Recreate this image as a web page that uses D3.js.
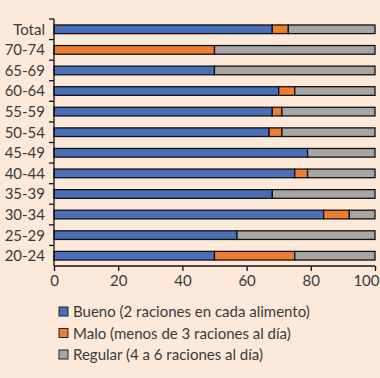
<!DOCTYPE html>
<html><head><meta charset="utf-8">
<script src="https://cdn.jsdelivr.net/npm/d3@7"></script>
<style>
html,body{margin:0;padding:0;background:#fde9d9;}
svg{display:block;}
text{font-family:Lato,"Open Sans",sans-serif;fill:#3a3a3a;}
</style></head>
<body>
<svg id="c" width="380" height="378"></svg>
<script>
const categories = ["Total","70-74","65-69","60-64","55-59","50-54","45-49","40-44","35-39","30-34","25-29","20-24"];
const bueno   = [68, 0, 50, 70, 68, 67, 79, 75, 68, 84, 57, 50];
const malo    = [5, 50, 0, 5, 3, 4, 0, 4, 0, 8, 0, 25];
const regular = [27, 50, 50, 25, 29, 29, 21, 21, 32, 8, 43, 25];
const seriesNames = ["Bueno (2 raciones en cada alimento)","Malo (menos de 3 raciones al día)","Regular (4 a 6 raciones al día)"];
const colors = ["#4a6fb8","#ed7d31","#a6a6a6"];
const xTicks = [0,20,40,60,80,100];

const svg = d3.select("#c");
svg.append("rect").attr("width",380).attr("height",378).attr("fill","#fde9d9");

const x = d3.scaleLinear().domain([0,100]).range([54,375]);
const y = d3.scaleBand().domain(categories).range([19,266]).paddingInner(0.58).paddingOuter(0.29);
const step = y.step();
const y0 = 19, y1 = 266;

const rows = categories.map((c,i)=>({c, vals:[bueno[i],malo[i],regular[i]]}));
const segs = [];
rows.forEach(r=>{let acc=0; r.vals.forEach((v,k)=>{ if(v>0) segs.push({c:r.c,k,a:acc,b:acc+v}); acc+=v;});});

svg.append("g").selectAll("rect").data(segs).join("rect")
  .attr("x",d=>x(d.a)).attr("width",d=>x(d.b)-x(d.a))
  .attr("y",d=>y(d.c)).attr("height",y.bandwidth())
  .attr("fill",d=>colors[d.k]).attr("stroke","#111").attr("stroke-width",1.3);

// y axis
const ga = svg.append("g").attr("stroke","#111").attr("stroke-width",1.3);
ga.append("line").attr("x1",54).attr("x2",54).attr("y1",y0).attr("y2",y1);
categories.forEach((c,i)=>{
  const yy = y0 + step*(i+1);
  if(i<categories.length-1) ga.append("line").attr("x1",49).attr("x2",54).attr("y1",yy).attr("y2",yy);
});
ga.append("line").attr("x1",49).attr("x2",54).attr("y1",y0).attr("y2",y0);
svg.append("g").selectAll("text").data(categories).join("text")
  .attr("x",45).attr("y",d=>y(d)+y.bandwidth()/2).attr("dy","0.36em")
  .attr("text-anchor","end").attr("font-size",15).text(d=>d);

// x axis
ga.append("line").attr("x1",54).attr("x2",375).attr("y1",y1).attr("y2",y1);
const xa = svg.append("g").attr("transform",`translate(0,${y1})`)
  .call(d3.axisBottom(x).tickValues(xTicks).tickSize(5).tickPadding(4).tickFormat(d3.format("d")));
xa.select(".domain").remove();
xa.selectAll("line").attr("stroke","#111").attr("stroke-width",1.3);
xa.selectAll("text").attr("font-size",15).attr("fill","#3a3a3a").style("font-family","Lato, sans-serif");
xa.selectAll(".tick").filter(d=>d===100).select("text").attr("text-anchor","end").attr("x",4);

// legend
const lg = svg.append("g");
seriesNames.forEach((n,i)=>{
  const cy = 312 + i*21.5;
  lg.append("rect").attr("x",59).attr("y",cy-5).attr("width",9).attr("height",9)
    .attr("fill",colors[i]).attr("stroke","#222").attr("stroke-width",1);
  lg.append("text").attr("x",73).attr("y",cy).attr("dy","0.36em").attr("font-size",15).text(n);
});
</script>
</body></html>
